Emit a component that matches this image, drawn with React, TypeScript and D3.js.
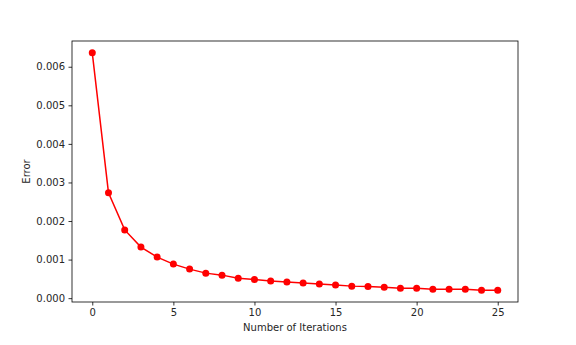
import * as d3 from "d3";
import { useEffect, useRef } from "react";

// iteration index and the error
const iterations = d3.range(0, 26);
const errors = [
  0.00636, 0.00273, 0.00177, 0.001325, 0.001065, 0.000883, 0.000753, 0.000649,
  0.000597, 0.000519, 0.000485, 0.000442, 0.000416, 0.00039, 0.000364,
  0.000338, 0.000312, 0.000303, 0.000286, 0.00026, 0.00026, 0.000234,
  0.000234, 0.000234, 0.000208, 0.000208,
];
const xTicks = [0, 5, 10, 15, 20, 25];
const yTicks = [0, 0.001, 0.002, 0.003, 0.004, 0.005, 0.006];

const App = () => {
  const svgRef = useRef<SVGSVGElement>(null);

  useEffect(() => {
    const w = 576;
    const h = 345;
    const left = 72;
    const right = 518;
    const top = 41;
    const bottom = 302;

    const svg = d3.select(svgRef.current);
    svg.selectAll("*").remove();
    // sit on the page corner, past the body margin
    svg
      .attr("width", w)
      .attr("height", h)
      .style("display", "block")
      .style("position", "absolute")
      .style("left", "0px")
      .style("top", "0px")
      .style("background", "#fff");

    // matplotlib style 5% margins
    const xPad = (25 - 0) * 0.05;
    const yMin = d3.min(errors)!;
    const yMax = d3.max(errors)!;
    const yPad = (yMax - yMin) * 0.05;

    const xScale = d3.scaleLinear().domain([0 - xPad, 25 + xPad]).range([left, right]);
    const yScale = d3.scaleLinear().domain([yMin - yPad, yMax + yPad]).range([bottom, top]);

    const font = "'DejaVu Sans', sans-serif";

    // axes
    const xAxis = d3.axisBottom(xScale).tickValues(xTicks).tickSize(3.5).tickPadding(3.5).tickFormat(d3.format("d"));
    const yAxis = d3.axisLeft(yScale).tickValues(yTicks).tickSize(3.5).tickPadding(3.5).tickFormat(d3.format(".3f"));

    const gx = svg.append("g").attr("transform", `translate(0, ${bottom})`).call(xAxis);
    const gy = svg.append("g").attr("transform", `translate(${left}, 0)`).call(yAxis);
    [gx, gy].forEach((g) => {
      g.select(".domain").remove();
      g.selectAll("line").attr("stroke", "#000").attr("stroke-width", 0.8);
      g.selectAll("text").attr("font-family", font).attr("font-size", 10).attr("fill", "#262626");
    });

    // frame
    svg
      .append("rect")
      .attr("x", left)
      .attr("y", top)
      .attr("width", right - left)
      .attr("height", bottom - top)
      .attr("fill", "none")
      .attr("stroke", "#000")
      .attr("stroke-width", 0.8);

    const line = d3
      .line<number>()
      .x((d, i) => xScale(iterations[i]))
      .y((d) => yScale(d));

    svg
      .append("path")
      .datum(errors)
      .attr("d", line)
      .attr("fill", "none")
      .attr("stroke", "red")
      .attr("stroke-width", 1.5);

    svg
      .selectAll(".dot")
      .data(errors)
      .join("circle")
      .attr("class", "dot")
      .attr("cx", (d, i) => xScale(iterations[i]))
      .attr("cy", (d) => yScale(d))
      .attr("r", 3.5)
      .attr("fill", "red");

    // labels
    svg
      .append("text")
      .attr("x", (left + right) / 2)
      .attr("y", 331)
      .attr("text-anchor", "middle")
      .attr("font-family", font)
      .attr("font-size", 10)
      .attr("fill", "#262626")
      .text("Number of Iterations");

    svg
      .append("text")
      .attr("transform", `translate(30, ${(top + bottom) / 2}) rotate(-90)`)
      .attr("text-anchor", "middle")
      .attr("font-family", font)
      .attr("font-size", 10)
      .attr("fill", "#262626")
      .text("Error");
  }, []);

  return <svg ref={svgRef}></svg>;
};

export default App;
